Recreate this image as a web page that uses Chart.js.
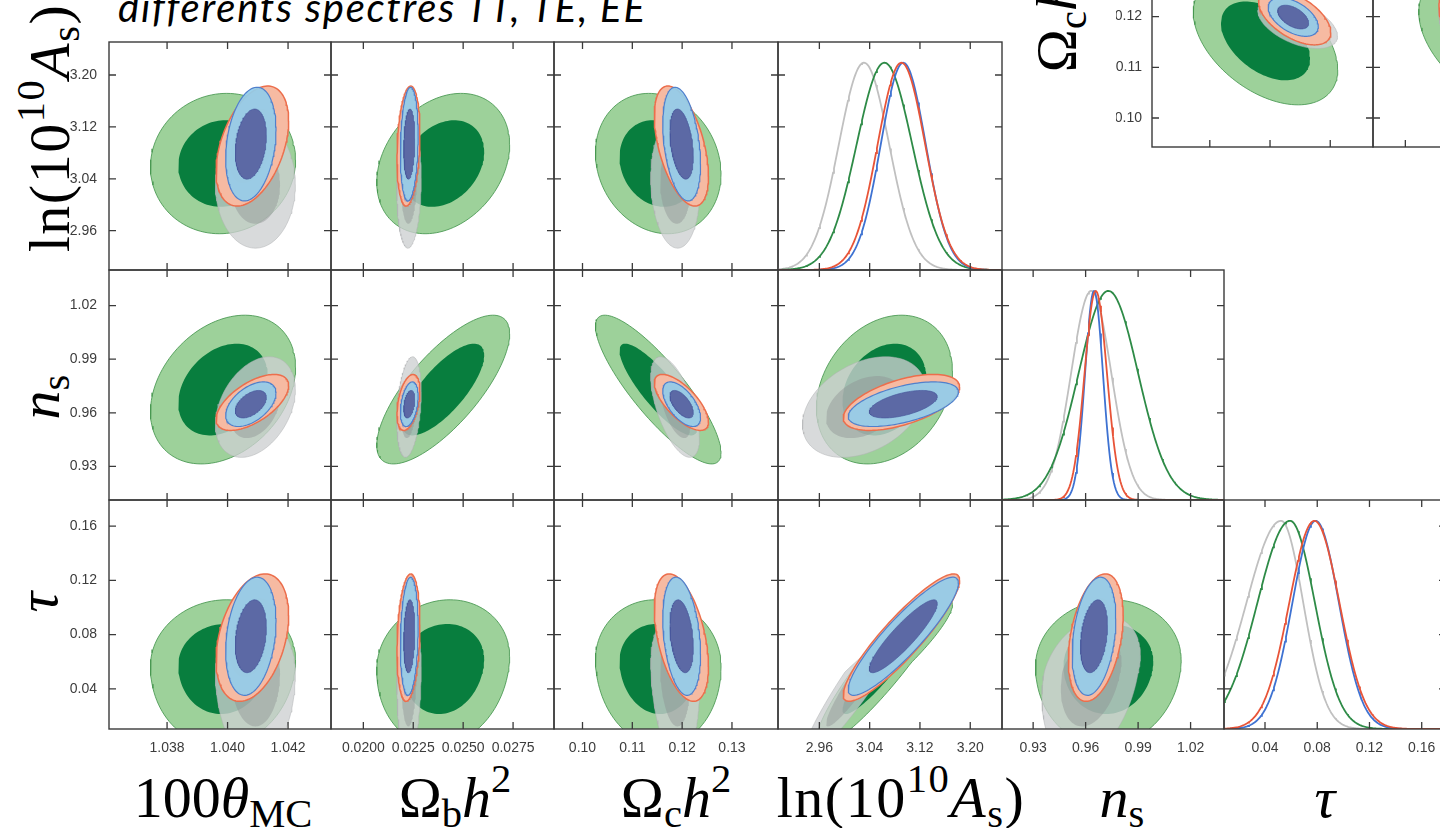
<!DOCTYPE html>
<html>
<head>
<meta charset="utf-8">
<script src="https://cdn.jsdelivr.net/npm/chart.js@4.4.1/dist/chart.umd.min.js"></script>
<style>
  html, body { margin: 0; padding: 0; background: #fff; }
  body { width: 1440px; height: 828px; overflow: hidden; position: relative; }
  canvas { position: absolute; }
  .anchor { position: absolute; width: 0; height: 0; }
  .rot { transform: rotate(-90deg); transform-origin: 0 0; }
  .lab {
    position: absolute; left: 0; top: 0; white-space: nowrap;
    font-family: "Liberation Serif", "DejaVu Serif", serif; font-size: 58px; line-height: 1;
    color: #000; transform: translate(-50%, -83.75%);
  }
  .lab.wide { letter-spacing: 1.5px; }
  .lab i { font-style: italic; }
  .sb { font-size: 70%; position: relative; top: 0.24em; }
  .sp { font-size: 70%; position: relative; top: -0.62em; }
  .title {
    position: absolute; left: 118px; top: 22px; white-space: nowrap;
    font-family: Lato, "Open Sans", sans-serif; font-style: italic; font-size: 40px; line-height: 1;
    letter-spacing: 1.8px; color: #000; transform: translateY(-88.7%);
  }
</style>
</head>
<body>
<div class="title">differents spectres TT, TE, EE</div>

<div class="anchor" style="left:223px;top:818px"><div class="lab">100<i>θ</i><span class="sb">MC</span></div></div>
<div class="anchor" style="left:455px;top:818px"><div class="lab">Ω<span class="sb">b</span><i>h</i><span class="sp">2</span></div></div>
<div class="anchor" style="left:676px;top:818px"><div class="lab">Ω<span class="sb">c</span><i>h</i><span class="sp">2</span></div></div>
<div class="anchor" style="left:901px;top:818px"><div class="lab wide">ln(10<span class="sp">10</span><i>A</i><span class="sb">s</span>)</div></div>
<div class="anchor" style="left:1122px;top:818px"><div class="lab"><i>n</i><span class="sb">s</span></div></div>
<div class="anchor" style="left:1325px;top:818px"><div class="lab"><i>τ</i></div></div>

<div class="anchor rot" style="left:70px;top:128px"><div class="lab wide">ln(10<span class="sp">10</span><i>A</i><span class="sb">s</span>)</div></div>
<div class="anchor rot" style="left:60px;top:397px"><div class="lab"><i>n</i><span class="sb">s</span></div></div>
<div class="anchor rot" style="left:58px;top:602px"><div class="lab"><i>τ</i></div></div>
<div class="anchor rot" style="left:1077px;top:17px"><div class="lab">Ω<span class="sb">c</span><i>h</i><span class="sp">2</span></div></div>

<script>
// ---------------- data ----------------
// parameter order: 100theta_MC, Omega_b h^2, Omega_c h^2, ln(10^10 A_s), n_s, tau
const ticksTheta = [1.038, 1.040, 1.042];
const ticksOmbh2 = [0.0200, 0.0225, 0.0250, 0.0275];
const ticksOmch2 = [0.10, 0.11, 0.12, 0.13];
const ticksLogA  = [2.96, 3.04, 3.12, 3.20];
const ticksNs    = [0.93, 0.96, 0.99, 1.02];
const ticksTau   = [0.04, 0.08, 0.12, 0.16];

const labelsTheta = ['1.038', '1.040', '1.042'];
const labelsOmbh2 = ['0.0200', '0.0225', '0.0250', '0.0275'];
const labelsOmch2 = ['0.10', '0.11', '0.12', '0.13'];
const labelsLogA  = ['2.96', '3.04', '3.12', '3.20'];
const labelsNs    = ['0.93', '0.96', '0.99', '1.02'];
const labelsTau   = ['0.04', '0.08', '0.12', '0.16'];

// axis limits when a parameter is on the horizontal / vertical axis
const limitsX = [[1.03608, 1.04342], [0.01838, 0.02955], [0.09428, 0.13924],
                 [2.8942, 3.2505], [0.9122, 1.0391], [0.0086, 0.1786]];
const limitsY = [null, null, [0.09428, 0.13924],
                 [2.8994, 3.2509], [0.9112, 1.0399], [0.0104, 0.1793]];

// posterior summaries of each chain: mean, lower / upper widths, correlations
// correlation order: (0,1)(0,2)(0,3)(0,4)(0,5)(1,2)(1,3)(1,4)(1,5)(2,3)(2,4)(2,5)(3,4)(3,5)(4,5)
const greenMean  = [1.03985, 0.02400, 0.11520, 3.0635, 0.9730, 0.0592];
const greenSigLo = [0.00098, 0.00136, 0.00515, 0.0442, 0.0170, 0.0250];
const greenSigHi = [0.00098, 0.00136, 0.00515, 0.0442, 0.0170, 0.0190];
const greenCorr  = [0.0, -0.45, 0.05, 0.30, 0.05, -0.45, 0.27, 0.75, 0.10, -0.15, -0.85, -0.05, 0.25, 0.92, 0.05];

const greyMean  = [1.04092, 0.02229, 0.11860, 3.0310, 0.9632, 0.0523];
const greySigLo = [0.00054, 0.00025, 0.00200, 0.0400, 0.0115, 0.0265];
const greySigHi = [0.00054, 0.00025, 0.00200, 0.0400, 0.0115, 0.0170];
const greyCorr  = [0.0, -0.50, 0.0, 0.35, 0.0, -0.40, 0.10, 0.30, 0.10, -0.10, -0.60, -0.15, 0.35, 0.95, 0.30];

const redMean  = [1.04082, 0.02226, 0.11985, 3.0905, 0.9658, 0.0778];
const redSigLo = [0.00049, 0.000235, 0.00222, 0.0378, 0.0064, 0.0192];
const redSigHi = [0.00049, 0.000235, 0.00222, 0.0378, 0.0064, 0.0192];
const redCorr  = [0.0, -0.55, 0.42, 0.60, 0.35, -0.45, 0.20, 0.40, 0.20, -0.50, -0.70, -0.45, 0.55, 0.90, 0.35];

const blueMean  = [1.04077, 0.02230, 0.11990, 3.0935, 0.9648, 0.0788];
const blueSigLo = [0.00034, 0.000182, 0.00155, 0.0358, 0.0051, 0.0178];
const blueSigHi = [0.00034, 0.000182, 0.00155, 0.0358, 0.0051, 0.0178];
const blueCorr  = [0.0, -0.50, 0.25, 0.50, 0.25, -0.40, 0.15, 0.35, 0.15, -0.35, -0.60, -0.30, 0.55, 0.90, 0.30];

// ---------------- styles ----------------
const tickValues = [ticksTheta, ticksOmbh2, ticksOmch2, ticksLogA, ticksNs, ticksTau];
const tickLabels = [labelsTheta, labelsOmbh2, labelsOmch2, labelsLogA, labelsNs, labelsTau];

const NONE = 'rgba(0,0,0,0)';
const chains = [
  { mean: greenMean, lo: greenSigLo, hi: greenSigHi, corr: greenCorr,
    outer: { fill: 'rgb(157,209,154)', line: 'rgba(70,150,80,0.85)', width: 1 },
    inner: { fill: 'rgb(8,126,62)', line: NONE, width: 1 },
    curve: 'rgb(46,139,71)' },
  { mean: greyMean, lo: greySigLo, hi: greySigHi, corr: greyCorr,
    outer: { fill: 'rgba(205,207,209,0.78)', line: 'rgba(175,178,180,0.5)', width: 1 },
    inner: { fill: 'rgba(140,143,145,0.42)', line: NONE, width: 1 },
    curve: 'rgb(192,192,192)' },
  { mean: redMean, lo: redSigLo, hi: redSigHi, corr: redCorr,
    outer: { fill: 'rgb(246,186,162)', line: 'rgb(236,110,76)', width: 1.5 },
    inner: { fill: 'rgb(244,165,138)', line: NONE, width: 1 },
    curve: 'rgb(232,84,56)' },
  { mean: blueMean, lo: blueSigLo, hi: blueSigHi, corr: blueCorr,
    outer: { fill: 'rgba(146,204,233,0.93)', line: 'rgb(80,128,204)', width: 1.2 },
    inner: { fill: 'rgba(90,101,162,0.96)', line: 'rgba(70,85,155,0.8)', width: 0.8 },
    curve: 'rgb(62,114,210)' }
];

const R68 = Math.sqrt(-2 * Math.log(1 - 0.68));
const R95 = Math.sqrt(-2 * Math.log(1 - 0.95));
const PAIR_OFFSET = [0, 5, 9, 12, 14];

function rhoOf(ch, i, j) {
  if (i > j) { const t = i; i = j; j = t; }
  return ch.corr[PAIR_OFFSET[i] + (j - i - 1)];
}

// closed contour of a chain in the (xp, yp) plane at radius r (in standard units)
function contour(ch, xp, yp, r) {
  const rho = rhoOf(ch, xp, yp), s = Math.sqrt(1 - rho * rho);
  const pts = [];
  const n = 120;
  for (let k = 0; k <= n; k++) {
    const t = 2 * Math.PI * k / n;
    const z1 = r * Math.cos(t);
    const z2 = rho * z1 + s * r * Math.sin(t);
    pts.push({
      x: ch.mean[xp] + z1 * (z1 < 0 ? ch.lo[xp] : ch.hi[xp]),
      y: ch.mean[yp] + z2 * (z2 < 0 ? ch.lo[yp] : ch.hi[yp])
    });
  }
  return pts;
}

// normalised 1D marginal of a chain for parameter p
function marginal(ch, p) {
  const [a, b] = limitsX[p];
  const pts = [];
  const n = 240;
  for (let k = 0; k <= n; k++) {
    const x = a + (b - a) * k / n;
    const d = x - ch.mean[p];
    const sg = d < 0 ? ch.lo[p] : ch.hi[p];
    pts.push({ x, y: Math.exp(-0.5 * (d / sg) * (d / sg)) });
  }
  return pts;
}

function contourSets(xp, yp) {
  const out = [];
  let order = 20;
  for (const ch of chains) {
    for (const [lvl, r] of [['outer', R95], ['inner', R68]]) {
      const st = ch[lvl];
      out.push({
        data: contour(ch, xp, yp, r), showLine: true, fill: 'shape',
        backgroundColor: st.fill, borderColor: st.line, borderWidth: st.width,
        pointRadius: 0, tension: 0, order: order--, clip: 0
      });
    }
  }
  return out;
}

function marginalSets(p) {
  const drawOrder = [3, 4, 1, 2];
  return chains.map((ch, k) => ({
    data: marginal(ch, p), showLine: true, fill: false, yAxisID: 'yd',
    borderColor: ch.curve, borderWidth: 1.8, pointRadius: 0, tension: 0, order: drawOrder[k]
  }));
}

// frame with inward tick marks on all four sides
const framePlugin = {
  id: 'frame',
  defaults: { xt: [], yt: [] },
  afterDatasetsDraw(chart, args, opts) {
    const { ctx, chartArea: a, scales } = chart;
    const L = 7;
    ctx.save();
    ctx.strokeStyle = '#3a3a3a';
    ctx.lineWidth = 1.3;
    ctx.beginPath();
    for (const v of opts.xt) {
      const px = scales.x.getPixelForValue(v);
      ctx.moveTo(px, a.bottom); ctx.lineTo(px, a.bottom - L);
      ctx.moveTo(px, a.top); ctx.lineTo(px, a.top + L);
    }
    for (const v of opts.yt) {
      const py = scales.y.getPixelForValue(v);
      ctx.moveTo(a.left, py); ctx.lineTo(a.left + L, py);
      ctx.moveTo(a.right, py); ctx.lineTo(a.right - L, py);
    }
    ctx.stroke();
    ctx.lineWidth = 1.4;
    ctx.strokeRect(a.left, a.top, a.right - a.left, a.bottom - a.top);
    ctx.restore();
  }
};
Chart.register(framePlugin);
Chart.defaults.font.family = "'Liberation Sans', Arial, sans-serif";

function axis(p, lim, show, size, isX, pad) {
  const vals = tickValues[p], labs = tickLabels[p];
  return {
    type: 'linear', min: lim[0], max: lim[1], display: show, position: isX ? 'bottom' : 'left',
    grid: { display: false, drawTicks: false }, border: { display: false },
    afterBuildTicks: s => { s.ticks = vals.map(v => ({ value: v })); },
    afterFit: s => {
      if (isX) s.height = size; else s.width = size;
      s.paddingLeft = 0; s.paddingRight = 0; s.paddingTop = 0; s.paddingBottom = 0;
    },
    ticks: {
      display: show, padding: pad, autoSkip: false, maxRotation: 0, minRotation: 0,
      color: '#3c3c3c', font: { size: 14 }, callback: (v, i) => labs[i]
    }
  };
}

function addPanel(o) {
  const m = 4;
  const ml = o.lm || m, mb = o.bm || m, mt = m, mr = m;
  const W = o.w + ml + mr, H = o.h + mt + mb;
  const cv = document.createElement('canvas');
  cv.width = W; cv.height = H;
  cv.style.left = (o.left - ml) + 'px';
  cv.style.top = (o.top - mt) + 'px';
  cv.style.width = W + 'px'; cv.style.height = H + 'px';
  document.body.appendChild(cv);

  const diag = o.xp === o.yp;
  const scales = {
    x: axis(o.xp, limitsX[o.xp], !!o.bm, o.bm || 0, true, 11),
    y: axis(o.yp, limitsY[o.yp], !!o.lm, o.lm || 0, false, o.lpad || 12)
  };
  if (diag) scales.yd = { type: 'linear', display: false, min: 0, max: 1.1 };

  new Chart(cv, {
    type: 'scatter',
    data: { datasets: diag ? marginalSets(o.xp) : contourSets(o.xp, o.yp) },
    options: {
      responsive: false, animation: false, devicePixelRatio: 1, events: [],
      layout: { padding: { left: o.lm ? 0 : m, right: mr, top: mt, bottom: o.bm ? 0 : m } },
      plugins: {
        legend: { display: false }, tooltip: { enabled: false },
        frame: { xt: tickValues[o.xp], yt: tickValues[o.yp] }
      },
      scales
    }
  });
}

// ---------------- layout ----------------
const colLeft = [109, 331, 554, 778, 1002, 1224];
const colWidth = [222, 223, 224, 224, 222, 222];
const rowTop = [42, 270, 500];
const rowHeight = [228, 230, 229];
const rowParam = [3, 4, 5];

rowParam.forEach((yp, r) => {
  for (let c = 0; c <= yp; c++) {
    addPanel({
      xp: c, yp, left: colLeft[c], top: rowTop[r], w: colWidth[c], h: rowHeight[r],
      lm: c === 0 ? 60 : 0, bm: r === 2 ? 34 : 0
    });
  }
});

// Omega_c h^2 row, upper right
addPanel({ xp: 0, yp: 2, left: 1152, top: -81, w: 221, h: 228, lm: 36, lpad: 10 });
addPanel({ xp: 1, yp: 2, left: 1373, top: -81, w: 223, h: 228 });
</script>
</body>
</html>
